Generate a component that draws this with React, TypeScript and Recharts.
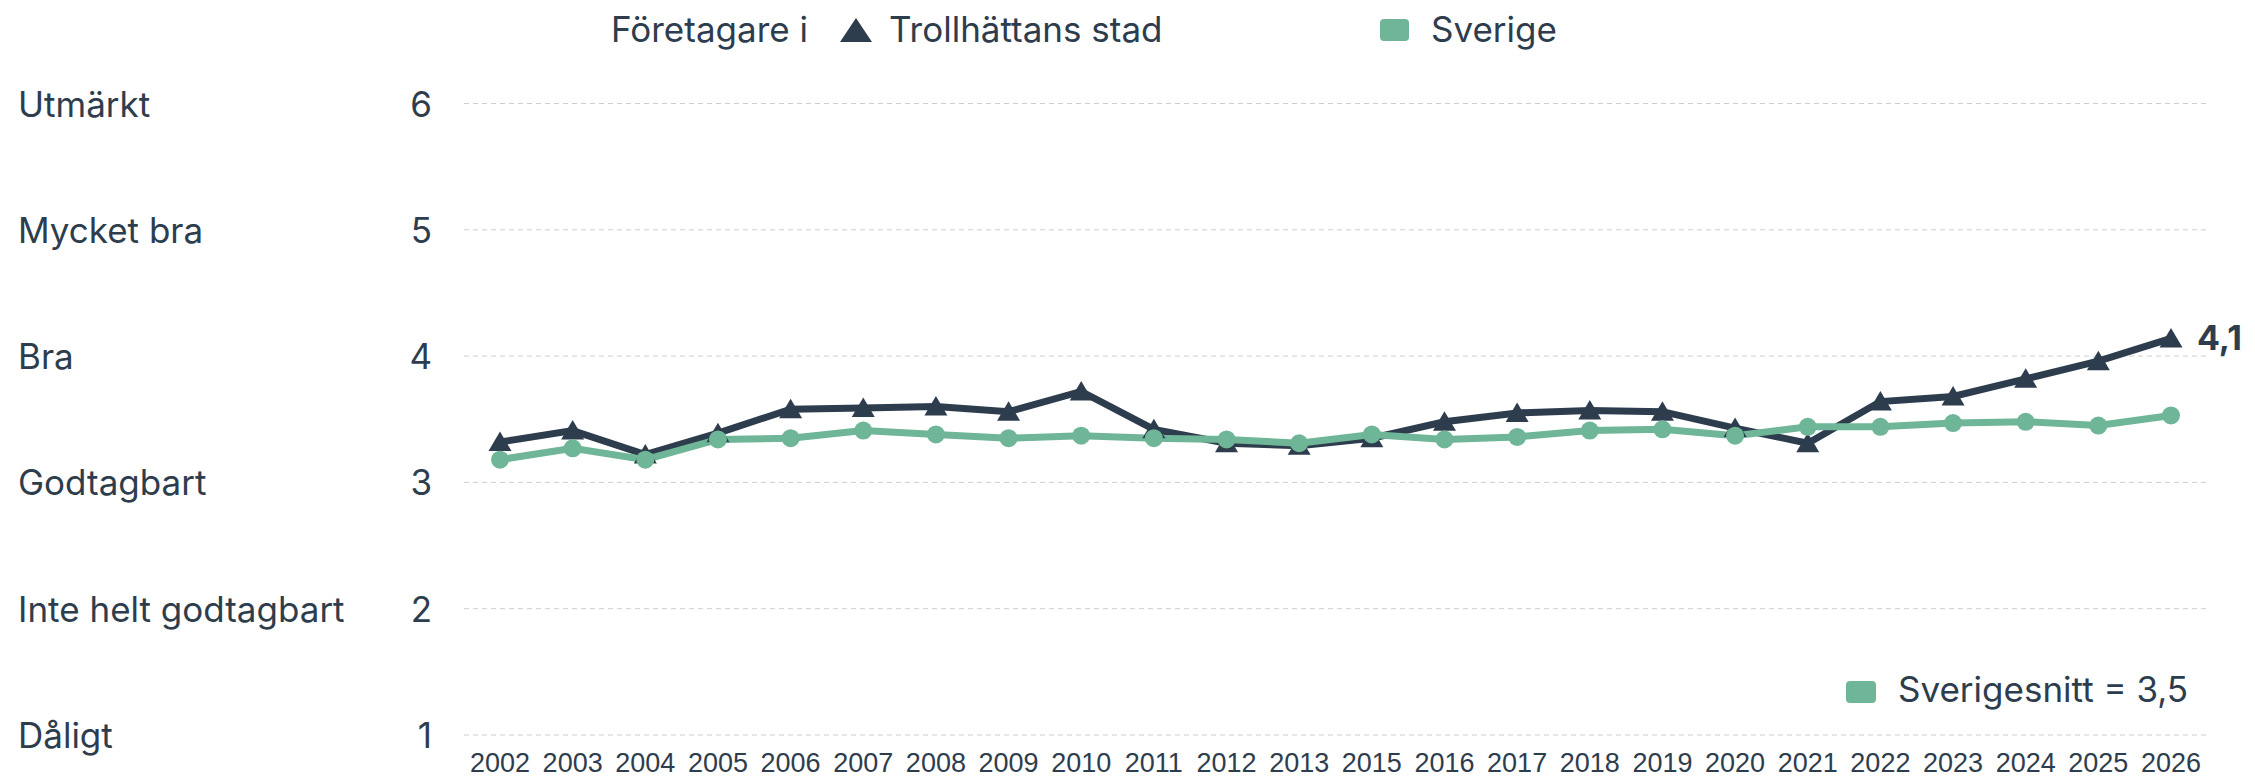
import React from "react";
import { LineChart, Line, XAxis, YAxis, CartesianGrid, LabelList } from "recharts";

const years = [
  "2002", "2003", "2004", "2005", "2006", "2007", "2008", "2009", "2010", "2011", "2012", "2013",
  "2015", "2016", "2017", "2018", "2019", "2020", "2021", "2022", "2023", "2024", "2025", "2026",
];
const trollhattan = [
  3.32, 3.41, 3.22, 3.39, 3.58, 3.59, 3.6, 3.56, 3.72, 3.42, 3.31, 3.29,
  3.35, 3.48, 3.55, 3.57, 3.56, 3.43, 3.31, 3.64, 3.68, 3.82, 3.96, 4.14,
];
const sverige = [
  3.18, 3.27, 3.18, 3.34, 3.35, 3.41, 3.38, 3.35, 3.37, 3.35, 3.34, 3.31,
  3.38, 3.34, 3.36, 3.41, 3.42, 3.37, 3.44, 3.44, 3.47, 3.48, 3.45, 3.53,
];
const yTicks = [1, 2, 3, 4, 5, 6];
const yLabels = ["Dåligt", "Inte helt godtagbart", "Godtagbart", "Bra", "Mycket bra", "Utmärkt"];
const lastLabel = "4,1";
const avgLabel = "Sverigesnitt = 3,5";

const DARK = "#2e3d4d";
const GREEN = "#6fb597";
const TEXT = "#2e3d4d";
const FONT = "Inter, 'Noto Sans', sans-serif";

const data = years.map((y, i) => ({ year: y, troll: trollhattan[i], sverige: sverige[i] }));

function YTick(props: any) {
  const { y, payload } = props;
  const idx = yTicks.indexOf(payload.value);
  return (
    <g>
      <text x={18} y={y} dy={13} fontSize={35} fontFamily={FONT} fill={TEXT}>
        {yLabels[idx]}
      </text>
      <text x={432} y={y} dy={13} fontSize={35} fontFamily={FONT} fill={TEXT} textAnchor="end">
        {payload.value}
      </text>
    </g>
  );
}

function Triangle(props: any) {
  const { cx, cy, index } = props;
  if (cx == null || cy == null) return null;
  return (
    <path
      key={"t" + index}
      d={`M${cx},${cy - 10.5} L${cx + 11.5},${cy + 9} L${cx - 11.5},${cy + 9} Z`}
      fill={DARK}
    />
  );
}

function EndLabel(props: any) {
  const { x, y, index } = props;
  if (index !== years.length - 1) return null;
  return (
    <text x={x + 26} y={y + 12} fontSize={34} fontWeight={700} fontFamily={FONT} fill={TEXT}>
      {lastLabel}
    </text>
  );
}

export default function App() {
  return (
    <div style={{ position: "absolute", left: 0, top: 0, width: 2255, height: 779, background: "#fff" }}>
      <LineChart
        width={2255}
        height={779}
        data={data}
        margin={{ top: 103.5, right: 48, left: 0, bottom: 0 }}
      >
        <CartesianGrid vertical={false} stroke="#cdcdcd" strokeDasharray="5 4" />
        <XAxis
          dataKey="year"
          axisLine={false}
          tickLine={false}
          interval={0}
          height={44}
          padding={{ left: 36, right: 36 }}
          tickMargin={12}
          tick={{ fontSize: 27, fill: TEXT, fontFamily: "'Liberation Sans', Arial, sans-serif" }}
        />
        <YAxis
          domain={[1, 6]}
          ticks={yTicks}
          width={464}
          axisLine={false}
          tickLine={false}
          tick={<YTick />}
        />
        <Line
          dataKey="troll"
          stroke={DARK}
          strokeWidth={7}
          dot={<Triangle />}
          activeDot={false}
          isAnimationActive={false}
        >
          <LabelList dataKey="troll" content={<EndLabel />} />
        </Line>
        <Line
          dataKey="sverige"
          stroke={GREEN}
          strokeWidth={7}
          dot={{ r: 9, fill: GREEN, stroke: "none" }}
          activeDot={false}
          isAnimationActive={false}
        />
      </LineChart>
      <svg
        width={2255}
        height={779}
        style={{ position: "absolute", left: 0, top: 0, pointerEvents: "none" }}
      >
        <text x={611} y={42} fontSize={35} fontFamily={FONT} fill={TEXT}>Företagare i</text>
        <path d="M856,18 L872,42 L840,42 Z" fill={DARK} />
        <text x={889} y={42} fontSize={35} fontFamily={FONT} fill={TEXT}>Trollhättans stad</text>
        <rect x={1380} y={19} width={29} height={22} rx={4} fill={GREEN} />
        <text x={1431} y={42} fontSize={35} fontFamily={FONT} fill={TEXT}>Sverige</text>
        <rect x={1846} y={681} width={30} height={22} rx={4} fill={GREEN} />
        <text x={1898} y={702} fontSize={35} fontFamily={FONT} fill={TEXT}>{avgLabel}</text>
      </svg>
    </div>
  );
}
